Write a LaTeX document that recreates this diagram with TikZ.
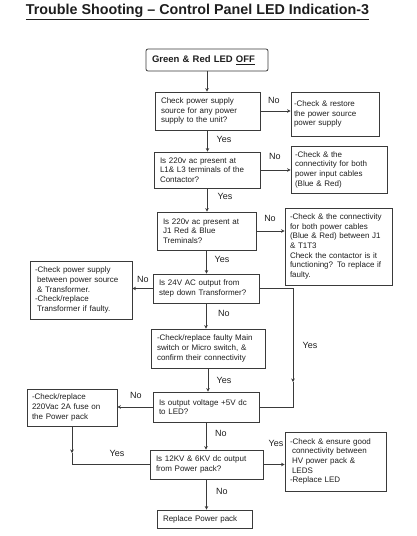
\documentclass[tikz,border=0pt]{standalone}
\usepackage{fontspec}
\setmainfont{Liberation Sans}
\usetikzlibrary{positioning,arrows.meta,calc}
\definecolor{ink}{HTML}{1E1E1E}
\definecolor{edge}{HTML}{3A3A3A}
\tikzset{
  stepbox/.style={rectangle, draw=edge, line width=0.8pt, align=left,
                  font=\fontsize{8}{9.7}\selectfont, text=ink, inner xsep=6pt, inner ysep=2pt},
  startbox/.style={stepbox, rounded corners=2pt, font=\fontsize{9.5}{11}\selectfont\bfseries},
  flow/.style={-{Stealth[length=3.5pt,width=3.5pt]}, line width=0.8pt, draw=edge},
  link/.style={line width=0.8pt, draw=edge},
  answer/.style={font=\fontsize{9}{11}\selectfont, text=ink, inner sep=0pt}
}
\begin{document}
\begin{tikzpicture}[x=1pt,y=-1pt]
\useasboundingbox (0,0) rectangle (417,536);
\node[font=\fontsize{14.3}{16}\selectfont\bfseries,text=ink] (title) at (197.5,12)
  {\underline{Trouble Shooting -- Control Panel LED Indication-3}};
% main column
\node[startbox, text width=110pt, minimum height=22pt] (start) at (207,60) {Green \& Red LED \underline{OFF}};
\node[stepbox, text width=93pt, minimum height=38pt] (q1) at (207.5,111)
  {Check power supply\\source for any power\\supply to the unit?};
\node[stepbox, text width=94pt, minimum height=36pt] (q2) at (207,170)
  {Is 220v ac present at\\L1\& L3 terminals of the\\Contactor?};
\node[stepbox, text width=87pt, minimum height=38pt] (q3) at (206.5,231)
  {Is 220v ac present at\\J1 Red \& Blue\\Treminals?};
\node[stepbox, text width=94pt, minimum height=29pt] (q4) at (206,288.5)
  {Is 24V AC output from\\step down Transformer?};
\node[stepbox, text width=102pt, minimum height=39pt] (fix) at (208,348.5)
  {-Check/replace faulty Main\\switch or Micro switch, \&\\confirm their connectivity};
\node[stepbox, text width=94pt, minimum height=30pt] (q5) at (206,407)
  {Is output voltage +5V dc\\to LED?};
\node[stepbox, text width=101pt, minimum height=29pt] (q6) at (206.5,464.5)
  {Is 12KV \& 6KV dc output\\from Power pack?};
\node[stepbox, text width=83pt, minimum height=18pt] (end) at (204.5,519) {Replace Power pack};
% actions
\node[stepbox, inner xsep=3pt, text width=82pt, minimum height=44pt] (a1) at (335,114)
  {-Check \& restore\\the power source\\power supply\\[6pt]};
\node[stepbox, inner xsep=4pt, text width=88pt, minimum height=47pt] (a2) at (339,169.5)
  {-Check \& the\\connectivity for both\\power input cables\\(Blue \& Red)};
\node[stepbox, inner xsep=5pt, text width=97pt, minimum height=77pt] (a3) at (338.5,246.5)
  {-Check \& the connectivity\\for both power cables\\(Blue \& Red) between J1\\\& T1T3\\Check the contactor is it\\functioning? To replace if\\faulty.};
\node[stepbox, inner xsep=5pt, text width=92pt, minimum height=58pt] (a4) at (81,290)
  {-Check power supply\\\hspace*{2pt}between power source\\\hspace*{2pt}\& Transformer.\\-Check/replace\\\hspace*{2pt}Transformer if faulty.};
\node[stepbox, inner xsep=5pt, text width=80pt, minimum height=37pt] (a5) at (72,407.5)
  {-Check/replace\\220Vac 2A fuse on\\the Power pack};
\node[stepbox, inner xsep=5pt, text width=91pt, minimum height=59pt] (a6) at (335.5,461.5)
  {-Check \& ensure good\\\hspace*{2pt}connectivity between\\\hspace*{2pt}HV power pack \&\\\hspace*{2pt}LEDS\\-Replace LED};
% main flow
\draw[flow] (start.south) -- (start.south |- q1.north);
\draw[flow] (q1.south) -- (q1.south |- q2.north);
\draw[flow] (q2.south) -- (q2.south |- q3.north);
\draw[flow] (q3.south) -- (q3.south |- q4.north);
\draw[flow] (q4.south) -- (q4.south |- fix.north);
\draw[flow] (fix.south) -- (fix.south |- q5.north);
\draw[flow] (q5.south) -- (q5.south |- q6.north);
\draw[flow] (q6.south) -- (q6.south |- end.north);
% side branches
\draw[flow] (q1.east) -- (q1.east -| a1.west);
\draw[flow] (q2.east) -- (q2.east -| a2.west);
\draw[flow] (q3.east) -- (q3.east -| a3.west);
\draw[flow] (q4.west) -- (q4.west -| a4.east);
\draw[flow] (q5.west) -- (q5.west -| a5.east);
\draw[flow] (q6.east) -- (q6.east -| a6.west);
% loops
\coordinate (yesdrop) at (293,382);
\draw[flow] (q4.east) -| (yesdrop);
\draw[link] (yesdrop) |- (q5.east);
\coordinate (fusejoin) at (72,453);
\draw[flow] (a5.south) -- (fusejoin);
\draw[link] (fusejoin) |- (q6.west);
% answers
\node[answer] (n1) at (274,100) {No};
\node[answer] (y1) at (224,139) {Yes};
\node[answer] (n2) at (275,156) {No};
\node[answer] (y2) at (225,196) {Yes};
\node[answer] (n3) at (270,218) {No};
\node[answer] (y3) at (222,259) {Yes};
\node[answer] (n4) at (143,279) {No};
\node[answer] (y4) at (310,345) {Yes};
\node[answer] (n5) at (224,313) {No};
\node[answer] (y5) at (224,380) {Yes};
\node[answer] (n6) at (136,395) {No};
\node[answer] (n7) at (221,433) {No};
\node[answer] (y6) at (117,453) {Yes};
\node[answer] (y7) at (276,443) {Yes};
\node[answer] (n8) at (222,491) {No};
\end{tikzpicture}
\end{document}
